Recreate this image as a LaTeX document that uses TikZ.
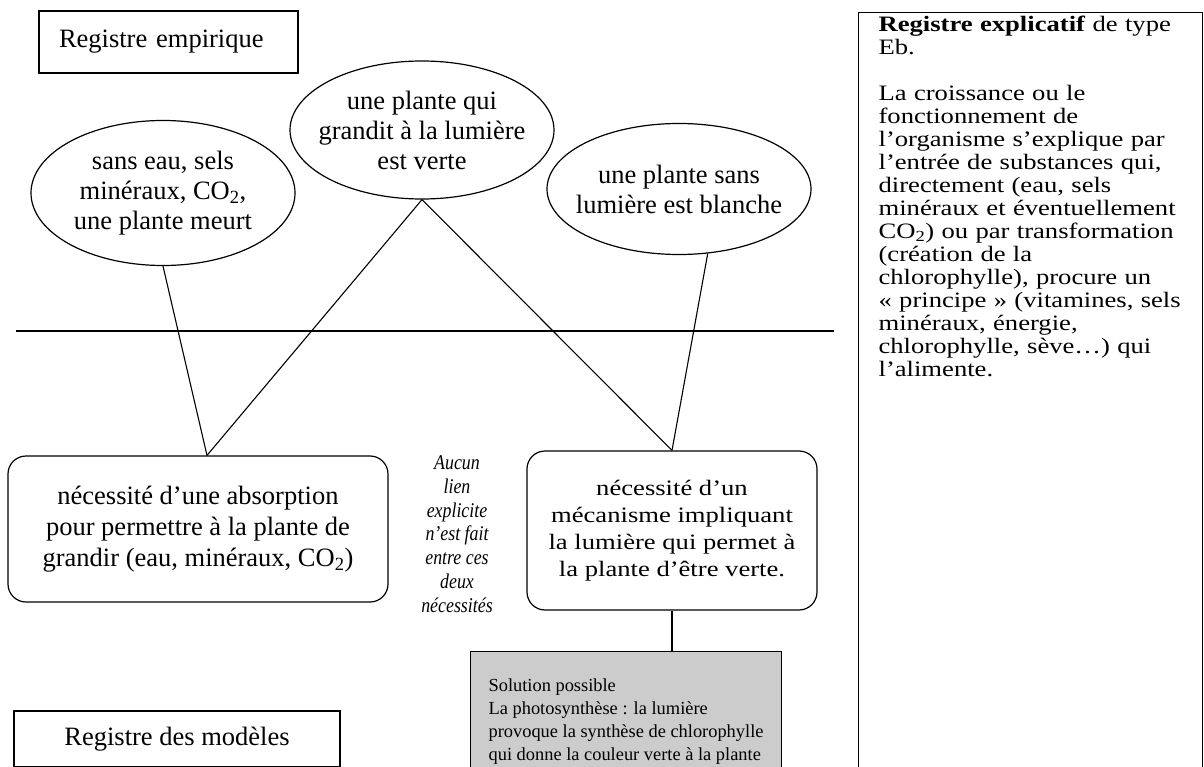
\documentclass[tikz,border=0pt]{standalone}
\usepackage{fontspec}
\setmainfont{Liberation Serif}
\newfontfamily\widefont[FakeStretch=1.21]{Liberation Serif}
\newfontfamily\notefont[FakeStretch=0.85]{Liberation Serif}
\usetikzlibrary{calc,positioning,shapes.geometric}
\tikzset{
    register label/.style={
        draw,line width=1.2pt,
        minimum height=62,
        font=\fontsize{26.5}{30}\selectfont
    },
    fact bubble/.style={
        draw,ellipse,line width=1.2pt,
        inner xsep=-20pt,inner ysep=0pt,
        minimum width=264,align=center,
        font=\fontsize{26.5}{30}\selectfont
    },
    need box/.style={
        draw,line width=1.2pt,rounded corners=18,
        align=center,
        font=\fontsize{26.5}{31}\selectfont
    },
    wide text/.style={font=\widefont\fontsize{22}{27}\selectfont},
    note text/.style={align=center,font=\notefont\itshape\fontsize{21}{23.8}\selectfont},
    solution box/.style={
        draw,line width=1.2pt,fill=gray!40,
        inner xsep=18pt,inner ysep=12pt,
        minimum height=140,align=left,
        font=\fontsize{18.4}{23}\selectfont
    },
    explain column/.style={
        draw,line width=1.2pt,
        text width=304,inner xsep=20pt,inner ysep=3pt,
        text depth=800pt,align=left,
        font=\widefont\fontsize{22}{23}\selectfont
    },
    link/.style={line width=1.1pt}
}

\begin{document}
\begin{tikzpicture}[x=1pt,y=-1pt]
\useasboundingbox (0,0) rectangle (1204,767);
% registres
\node[register label,minimum width=259,text width=219,align=left] (empirique) at (168.5,42) {Registre empirique};
\node[register label,minimum width=326,minimum height=56] (modeles) at (177,739) {Registre des modèles};
% constats empiriques
\node[fact bubble,minimum height=145] (eau) at (163,193) {sans eau, sels\\minéraux, CO\textsubscript{2},\\une plante meurt};
\node[fact bubble,minimum height=138] (lumiere) at (422,130) {une plante qui\\grandit à la lumière\\est verte};
\node[fact bubble,minimum height=131] (blanche) at (679,189) {une plante sans\\lumière est blanche};
\draw[line width=1.2pt] (16,331) -- (834,331);
% necessites
\node[need box,minimum width=380,minimum height=146] (absorption) at (198,529) {nécessité d’une absorption\\pour permettre à la plante de\\grandir (eau, minéraux, CO\textsubscript{2})};
\node[need box,wide text,minimum width=290,minimum height=159] (mecanisme) at (672,530.5) {nécessité d’un\\mécanisme impliquant\\la lumière qui permet à\\la plante d’être verte.};
\node[note text] (aucun) at (457,534) {Aucun\\lien\\explicite\\n’est fait\\entre ces\\deux\\nécessités};
\node[solution box,anchor=north west] (photo) at (470,651) {Solution possible\\La photosynthèse : la lumière\\provoque la synthèse de chlorophylle\\qui donne la couleur verte à la plante};
\node[explain column,anchor=north west] (explicatif) at (858,12) {\textbf{Registre explicatif} de type\\Eb.\\[23pt]La croissance ou le\\fonctionnement de\\l’organisme s’explique par\\l’entrée de substances qui,\\directement (eau, sels\\minéraux et éventuellement\\CO\textsubscript{2}) ou par transformation\\(création de la\\chlorophylle), procure un\\«~principe~» (vitamines, sels\\minéraux, énergie,\\chlorophylle, sève…) qui\\l’alimente.};
% liens
\coordinate (absorption top) at ($(absorption.north)+(9,0)$);
\draw[link] (eau.south) -- (absorption top);
\draw[link] (lumiere.south) -- (absorption top);
\draw[link] (lumiere.south) -- (mecanisme.north);
\draw[link] (blanche.-66) -- (mecanisme.north);
\draw[link] (mecanisme.south) -- (mecanisme.south |- photo.north);
\end{tikzpicture}
\end{document}
